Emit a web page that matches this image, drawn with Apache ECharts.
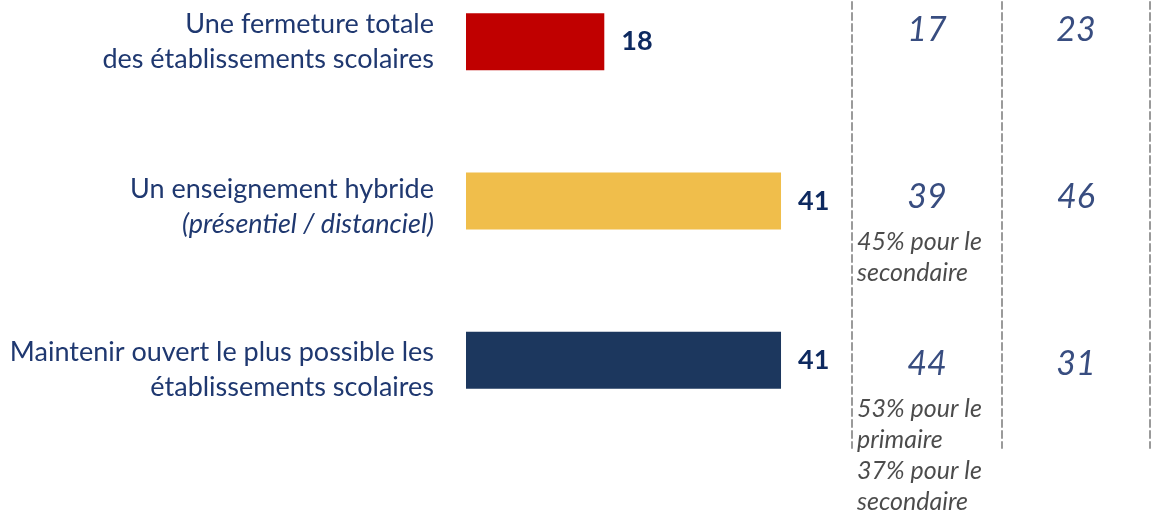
<!DOCTYPE html>
<html>
<head>
<meta charset="utf-8">
<script src="https://cdn.jsdelivr.net/npm/echarts@6/dist/echarts.min.js"></script>
<style>
  html, body { margin: 0; padding: 0; background: #fff; }
  #chart { width: 1152px; height: 517px; }
</style>
</head>
<body>
<div id="chart"></div>
<script>
// ---- data ----
const categories = [
  'Une fermeture totale\ndes établissements scolaires',
  'Un enseignement hybride\n(présentiel / distanciel)',
  'Maintenir ouvert le plus possible les\nétablissements scolaires'
];
const values = [18, 41, 41];
const barColors = ['#C00000', '#F0BE4B', '#1C375E'];
const column1 = [17, 39, 44];
const column2 = [23, 46, 31];
const notes1 = ['', '45% pour le\nsecondaire', '53% pour le\nprimaire\n37% pour le\nsecondaire'];

const FONT = 'Lato, "Open Sans", sans-serif';
const dashed = { color: '#9a9a9a', width: 2, type: [7, 4] };
const labelShift = [0, 12, 18];

const chart = echarts.init(document.getElementById('chart'), null, { renderer: 'canvas' });

chart.setOption({
  animation: false,
  backgroundColor: '#ffffff',
  grid: [
    { left: 466, top: -38, width: 461, height: 478, containLabel: false, outerBoundsMode: 'none' },
    { left: 852, top: -53, width: 150, height: 501, containLabel: false, outerBoundsMode: 'none' },
    { left: 1002, top: -53, width: 148, height: 501, containLabel: false, outerBoundsMode: 'none' }
  ],
  xAxis: [
    { gridIndex: 0, type: 'value', min: 0, max: 60, show: false },
    { gridIndex: 1, type: 'value', min: 0, max: 1, show: false },
    { gridIndex: 2, type: 'value', min: 0, max: 1, show: false }
  ],
  yAxis: [
    {
      gridIndex: 0, type: 'category', data: categories, inverse: true,
      axisLine: { show: false }, axisTick: { show: false },
      axisLabel: {
        margin: 32,
        align: 'right',
        formatter: function (v, idx) {
          const body = v.split('\n').map(function (l) {
            return l.charAt(0) === '(' ? '{i|' + l + '}' : '{n|' + l + '}';
          }).join('\n');
          const s = labelShift[idx] || 0;
          return s ? '{s' + s + '| }\n' + body : body;
        },
        rich: {
          n: { fontFamily: FONT, fontSize: 27, color: '#1F3870', lineHeight: 35, align: 'right' },
          i: { fontFamily: FONT, fontSize: 27, fontStyle: 'italic', color: '#1F3870', lineHeight: 35, align: 'right' },
          s12: { fontSize: 1, lineHeight: 12 },
          s18: { fontSize: 1, lineHeight: 18 }
        }
      }
    },
    {
      gridIndex: 1, type: 'category', data: categories, inverse: true,
      axisLine: { show: true, lineStyle: dashed }, axisTick: { show: false }, axisLabel: { show: false }
    },
    {
      gridIndex: 2, type: 'category', data: categories, inverse: true,
      axisLine: { show: true, lineStyle: dashed }, axisTick: { show: false }, axisLabel: { show: false }
    },
    {
      gridIndex: 2, type: 'category', data: categories, inverse: true, position: 'right',
      axisLine: { show: true, lineStyle: dashed }, axisTick: { show: false }, axisLabel: { show: false }
    }
  ],
  series: [
    {
      type: 'bar', xAxisIndex: 0, yAxisIndex: 0, barWidth: 57,
      data: values.map(function (v, i) { return { value: v, itemStyle: { color: barColors[i] } }; }),
      label: {
        show: true, position: 'right', distance: 17,
        fontFamily: FONT, fontSize: 27, fontWeight: 'bold', color: '#0E2A60'
      }
    },
    {
      type: 'scatter', xAxisIndex: 1, yAxisIndex: 1, symbolSize: 0,
      data: column1.map(function (v, i) { return [0.5, i, v]; }),
      label: {
        show: true, position: 'inside',
        formatter: function (p) { return String(p.data[2]); },
        fontFamily: FONT, fontSize: 34, fontStyle: 'italic', color: '#062060'
      }
    },
    {
      type: 'scatter', xAxisIndex: 1, yAxisIndex: 1, symbolSize: 0,
      data: notes1.map(function (t, i) { return [0.5, i, t]; }),
      label: {
        show: true, position: 'inside', align: 'left', verticalAlign: 'top', offset: [-70, 29],
        formatter: function (p) { return p.data[2]; },
        fontFamily: FONT, fontSize: 25, fontStyle: 'italic', color: '#1e1e1e', lineHeight: 31
      }
    },
    {
      type: 'scatter', xAxisIndex: 2, yAxisIndex: 2, symbolSize: 0,
      data: column2.map(function (v, i) { return [0.5, i, v]; }),
      label: {
        show: true, position: 'inside',
        formatter: function (p) { return String(p.data[2]); },
        fontFamily: FONT, fontSize: 34, fontStyle: 'italic', color: '#062060'
      }
    }
  ]
});
</script>
</body>
</html>
